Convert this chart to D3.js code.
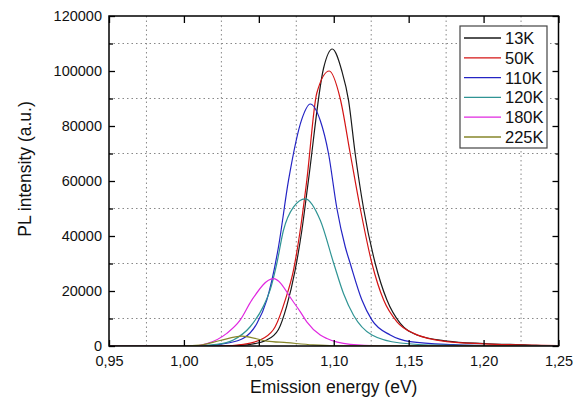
<!DOCTYPE html>
<html>
<head>
<meta charset="utf-8">
<script src="https://cdn.jsdelivr.net/npm/d3@7"></script>
<style>
  body { margin: 0; background: #fff; }
  text { font-family: "Liberation Sans", Arial, sans-serif; fill: #111; }
</style>
</head>
<body>
<div id="chart"></div>
<script>
// PL spectra as [energy (eV), intensity]
var s13K = [[0.95,0],[1.02,0],[1.035,150],[1.042,400],[1.0553,2200],[1.0631,6000],[1.0686,14500],[1.0742,27500],[1.0787,42000],[1.0831,60200],[1.0932,101000],[1.099,108000],[1.1054,100000],[1.1099,89200],[1.1143,70000],[1.1199,50000],[1.1277,30000],[1.1355,16700],[1.1444,8200],[1.1555,4000],[1.1756,1800],[1.2,900],[1.23,350],[1.245,0],[1.25,0]];
var s50K = [[0.95,0],[1.025,0],[1.0397,600],[1.0531,2800],[1.0609,7000],[1.0676,16700],[1.0731,27500],[1.0776,42000],[1.082,60200],[1.0887,92000],[1.097,100000],[1.1043,90000],[1.111,70000],[1.1177,50000],[1.1255,30000],[1.1333,16700],[1.1422,8800],[1.1533,4600],[1.1755,1600],[1.2,800],[1.23,300],[1.25,100]];
var s110K = [[0.95,0],[1.01,0],[1.0286,1000],[1.0397,2800],[1.0487,8200],[1.0553,16700],[1.0587,23900],[1.0631,36000],[1.0698,60200],[1.0787,82500],[1.0843,88000],[1.091,82000],[1.0965,70000],[1.1021,50000],[1.1077,36000],[1.111,30000],[1.1188,16700],[1.1255,9400],[1.1377,4000],[1.151,1600],[1.18,500],[1.21,100],[1.25,0]];
var s120K = [[0.95,0],[1.005,0],[1.0219,600],[1.033,2200],[1.0442,7000],[1.0531,14500],[1.0575,20300],[1.062,30000],[1.0664,42000],[1.0731,50500],[1.0809,53500],[1.091,45700],[1.1,30000],[1.1065,19100],[1.1132,11200],[1.1255,4000],[1.1444,1100],[1.17,300],[1.25,0]];
var s180K = [[0.95,0],[1.005,0],[1.015,800],[1.0286,4600],[1.0375,9400],[1.0453,16700],[1.0597,24500],[1.0731,16000],[1.0776,12500],[1.082,8800],[1.091,4000],[1.0954,2700],[1.111,600],[1.13,100],[1.25,0]];
var s225K = [[0.95,0],[0.995,0],[1.0108,350],[1.0241,2000],[1.0386,3600],[1.0553,1800],[1.0687,1200],[1.086,400],[1.1,100],[1.25,0]];

var labels = ["13K", "50K", "110K", "120K", "180K", "225K"];
var series = [s13K, s50K, s110K, s120K, s180K, s225K];
var colors = ["#1a1a1a", "#d41414", "#2424c4", "#2f9494", "#e028e0", "#86862a"];

var xTicks = [0.95, 1.00, 1.05, 1.10, 1.15, 1.20, 1.25];
var yTicks = [0, 20000, 40000, 60000, 80000, 100000, 120000];
var xGrid = [0.975, 1.025, 1.075, 1.125, 1.175, 1.225];
var yGrid = [10000, 30000, 50000, 70000, 90000, 110000];

var margin = { top: 16, right: 22.5, bottom: 52, left: 109 },
    W = 581, H = 398,
    width = W - margin.left - margin.right,
    height = H - margin.top - margin.bottom;

var svg = d3.select("#chart").append("svg")
    .attr("width", W)
    .attr("height", H)
  .append("g")
    .attr("transform", "translate(" + margin.left + "," + margin.top + ")");

var x = d3.scaleLinear().domain([0.95, 1.25]).range([0, width]);
var y = d3.scaleLinear().domain([0, 120000]).range([height, 0]);

// dotted grid at the half steps
svg.selectAll(".gx").data(xGrid).enter().append("line")
  .attr("x1", function(d) { return x(d) }).attr("x2", function(d) { return x(d) })
  .attr("y1", 0).attr("y2", height)
  .attr("stroke", "#888").attr("stroke-width", 1).attr("stroke-dasharray", "1.5,3");
svg.selectAll(".gy").data(yGrid).enter().append("line")
  .attr("x1", 0).attr("x2", width)
  .attr("y1", function(d) { return y(d) }).attr("y2", function(d) { return y(d) })
  .attr("stroke", "#888").attr("stroke-width", 1).attr("stroke-dasharray", "1.5,3");

svg.append("clipPath").attr("id", "clip")
  .append("rect").attr("width", width).attr("height", height);

var line = d3.line()
  .x(function(d) { return x(d[0]) })
  .y(function(d) { return y(d[1]) })
  .curve(d3.curveMonotoneX);

svg.append("g").attr("clip-path", "url(#clip)")
  .selectAll("path").data(series).enter().append("path")
    .attr("d", line)
    .attr("fill", "none")
    .attr("stroke", function(d, i) { return colors[i] })
    .attr("stroke-width", 1.2);

// axes, ticks pointing inward
var fmtX = function(d) { return d3.format(".2f")(d).replace(".", ",") };

var gb = svg.append("g").attr("transform", "translate(0," + height + ")")
  .call(d3.axisBottom(x).tickValues(xTicks).tickFormat(fmtX).tickSize(-6).tickPadding(9.5));
var gl = svg.append("g")
  .call(d3.axisLeft(y).tickValues(yTicks).tickFormat(d3.format("d")).tickSize(-6).tickPadding(7));
svg.append("g")
  .call(d3.axisTop(x).tickValues(xTicks).tickFormat("").tickSize(-7));
svg.append("g").attr("transform", "translate(" + width + ",0)")
  .call(d3.axisRight(y).tickValues(yTicks).tickFormat("").tickSize(-6));
svg.append("g")
  .call(d3.axisLeft(y).tickValues(yGrid).tickFormat("").tickSize(-4));
svg.append("g").attr("transform", "translate(" + width + ",0)")
  .call(d3.axisRight(y).tickValues(yGrid).tickFormat("").tickSize(-3));

svg.selectAll(".domain").remove();
svg.selectAll(".tick line").attr("stroke", "#000").attr("stroke-width", 1.3);
svg.selectAll(".tick text")
  .attr("font-size", 14.5)
  .attr("font-family", "'Liberation Sans', Arial, sans-serif")
  .attr("fill", "#111");

svg.append("rect")
  .attr("width", width).attr("height", height)
  .attr("fill", "none").attr("stroke", "#000").attr("stroke-width", 1.5);

// axis titles
svg.append("text")
  .text("Emission energy (eV)")
  .attr("x", width / 2).attr("y", height + 47)
  .attr("text-anchor", "middle")
  .attr("font-size", 17.5);
svg.append("text")
  .text("PL intensity (a.u.)")
  .attr("transform", "translate(" + (-78) + "," + (height / 2 - 12) + ") rotate(-90)")
  .attr("text-anchor", "middle")
  .attr("font-size", 17.5);

// legend
var lg = svg.append("g").attr("transform", "translate(" + (460 - margin.left) + "," + (26 - margin.top) + ")");
lg.append("rect")
  .attr("width", 87).attr("height", 122)
  .attr("fill", "#fff").attr("stroke", "#444").attr("stroke-width", 1.2);
var row = lg.selectAll(".row").data(labels).enter().append("g")
  .attr("transform", function(d, i) { return "translate(0," + (12 + i * 19.8) + ")" });
row.append("line")
  .attr("x1", 4).attr("x2", 41)
  .attr("stroke", function(d, i) { return colors[i] })
  .attr("stroke-width", 1.3);
row.append("text")
  .text(function(d) { return d })
  .attr("x", 45).attr("dy", "0.36em")
  .attr("font-size", 16.5);
</script>
</body>
</html>
